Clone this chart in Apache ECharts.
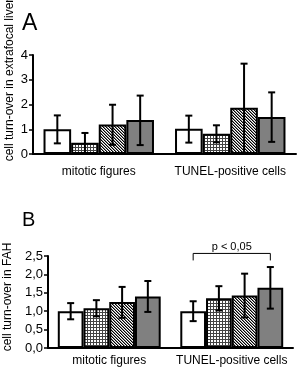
<!DOCTYPE html>
<html><head><meta charset="utf-8">
<script src="https://cdn.jsdelivr.net/npm/echarts@6/dist/echarts.min.js"></script>
<style>html,body{margin:0;padding:0;background:#fff}#c{width:300px;height:368px}</style>
</head><body><div id="c"></div>
<script>
var categories = ['mitotic figures', 'TUNEL-positive cells'];
// Panel A: extrafocal liver (4 groups per category)
var aG1 = [1.00, 1.02];
var aG2 = [0.45, 0.82];
var aG3 = [1.19, 1.87];
var aG4 = [1.37, 1.49];
var aHigh = [[1.56, 1.55], [0.85, 1.16], [1.99, 3.65], [2.36, 2.49]];
var aLow  = [[0.43, 0.46], [0.04, 0.47], [0.37, 0.05], [0.36, 0.49]];
var aTicks = ['0', '1', '2', '3', '4'];
// Panel B: FAH
var bG1 = [1.00, 1.00];
var bG2 = [1.08, 1.35];
var bG3 = [1.25, 1.43];
var bG4 = [1.40, 1.64];
var bHigh = [[1.22, 1.27], [1.30, 1.68], [1.66, 2.02], [1.82, 2.20]];
var bLow  = [[0.78, 0.73], [0.86, 1.02], [0.82, 0.83], [0.98, 1.07]];
var bTicks = ['0,0', '0,5', '1,0', '1,5', '2,0', '2,5'];
var sigText = 'p < 0,05';
var sigLevel = 2.57;

var FONT = 'Liberation Sans, Arial, sans-serif';
function mk(w, h, fn) { var c = document.createElement('canvas'); c.width = w; c.height = h; var x = c.getContext('2d'); x.fillStyle = '#fff'; x.fillRect(0,0,w,h); fn(x); return c; }
var gridPat = mk(3, 3, function (x) { x.fillStyle = '#444'; x.fillRect(0,0,3,1); x.fillRect(0,0,1,3); });
var diagPat = mk(3, 3, function (x) { for (var i = 0; i < 3; i++) { x.fillStyle = '#000'; x.fillRect(i, i, 1, 1); x.fillStyle = '#888'; x.fillRect((i + 1) % 3, i, 1, 1); } });
var fills = ['#ffffff', {image: gridPat, repeat: 'repeat'}, {image: diagPat, repeat: 'repeat'}, '#808080'];
var GAP = 0.16;

function barSeries(idx, data, k) {
  return {type: 'bar', xAxisIndex: idx, yAxisIndex: idx, data: data, barGap: '0%', barCategoryGap: (GAP*100) + '%',
    itemStyle: {color: fills[k], borderColor: '#000', borderWidth: 2}, silent: true, animation: false, z: 2};
}
function errData(high, low) {
  var d = [];
  for (var k = 0; k < 4; k++) for (var c = 0; c < 2; c++) d.push([c, k, low[k][c], high[k][c]]);
  return d;
}
function errSeries(idx, high, low) {
  return {type: 'custom', xAxisIndex: idx, yAxisIndex: idx, data: errData(high, low), z: 5, silent: true, animation: false,
    encode: {x: 0, y: [2, 3]},
    renderItem: function (params, api) {
      var c = api.value(0), k = api.value(1);
      var bw = api.size([1, 0])[0] * (1 - GAP) / 4;
      var x = api.coord([c, 0])[0] + (k - 1.5) * bw;
      var y1 = api.coord([c, api.value(2)])[1], y2 = api.coord([c, api.value(3)])[1];
      var st = {stroke: '#000', lineWidth: 2};
      return {type: 'group', children: [
        {type: 'line', shape: {x1: x, y1: y1, x2: x, y2: y2}, style: st},
        {type: 'line', shape: {x1: x - 3.5, y1: y1, x2: x + 3.5, y2: y1}, style: st},
        {type: 'line', shape: {x1: x - 3.5, y1: y2, x2: x + 3.5, y2: y2}, style: st}
      ]};
    }};
}
function sigSeries(idx) {
  return {type: 'custom', xAxisIndex: idx, yAxisIndex: idx, data: [[1, sigLevel]], z: 6, silent: true, animation: false, clip: false,
    renderItem: function (params, api) {
      var bw = api.size([1, 0])[0] * (1 - GAP) / 4;
      var cx = api.coord([1, 0])[0];
      var y = api.coord([1, api.value(1)])[1];
      var xl = cx - 1.5 * bw, xr = cx + 1.5 * bw;
      var st = {stroke: '#000', lineWidth: 1, fill: null};
      return {type: 'group', children: [
        {type: 'polyline', shape: {points: [[xl, y + 7], [xl, y], [xr, y], [xr, y + 7]]}, style: st},
        {type: 'text', x: cx, y: y - 1, style: {text: sigText, fill: '#000', font: '11px ' + FONT, align: 'center', verticalAlign: 'bottom'}}
      ]};
    }};
}
function xAxis(idx, margin) {
  return {type: 'category', gridIndex: idx, data: categories,
    axisLine: {lineStyle: {color: '#000', width: 2}}, axisTick: {length: 4, lineStyle: {color: '#000', width: 1.5}},
    axisLabel: {color: '#000', fontSize: 12, fontFamily: FONT, margin: margin, interval: 0}};
}
function yAxis(idx, max, interval, ticks) {
  return {type: 'value', gridIndex: idx, min: 0, max: max, interval: interval, splitLine: {show: false},
    axisLine: {show: true, lineStyle: {color: '#000', width: 2}}, axisTick: {show: true, length: 4, lineStyle: {color: '#000', width: 1.5}},
    axisLabel: {color: '#000', fontSize: 13, fontFamily: FONT, margin: 5, formatter: function (v) { return ticks[Math.round(v / interval)]; }}};
}

var chart = echarts.init(document.getElementById('c'), null, {renderer: 'canvas'});
chart.setOption({
  animation: false,
  grid: [
    {left: 33, right: 4, top: 55, bottom: 214},
    {left: 48, right: 7, top: 256, bottom: 20}
  ],
  xAxis: [xAxis(0, 12), xAxis(1, 7)],
  yAxis: [yAxis(0, 4, 1, aTicks), yAxis(1, 2.5, 0.5, bTicks)],
  graphic: [
    {type: 'text', left: 22, top: 12, style: {text: 'A', font: '23px ' + FONT, fill: '#000'}},
    {type: 'text', left: 22, top: 210, style: {text: 'B', font: '20px ' + FONT, fill: '#000'}},
    {type: 'text', x: 10, y: 80, rotation: Math.PI / 2, style: {text: 'cell turn-over in extrafocal liver', font: '12px ' + FONT, fill: '#000', align: 'center', verticalAlign: 'middle'}},
    {type: 'text', x: 8, y: 297, rotation: Math.PI / 2, style: {text: 'cell turn-over in FAH', font: '12px ' + FONT, fill: '#000', align: 'center', verticalAlign: 'middle'}}
  ],
  series: [
    barSeries(0, aG1, 0), barSeries(0, aG2, 1), barSeries(0, aG3, 2), barSeries(0, aG4, 3),
    errSeries(0, aHigh, aLow),
    barSeries(1, bG1, 0), barSeries(1, bG2, 1), barSeries(1, bG3, 2), barSeries(1, bG4, 3),
    errSeries(1, bHigh, bLow),
    sigSeries(1)
  ]
});
</script></body></html>
